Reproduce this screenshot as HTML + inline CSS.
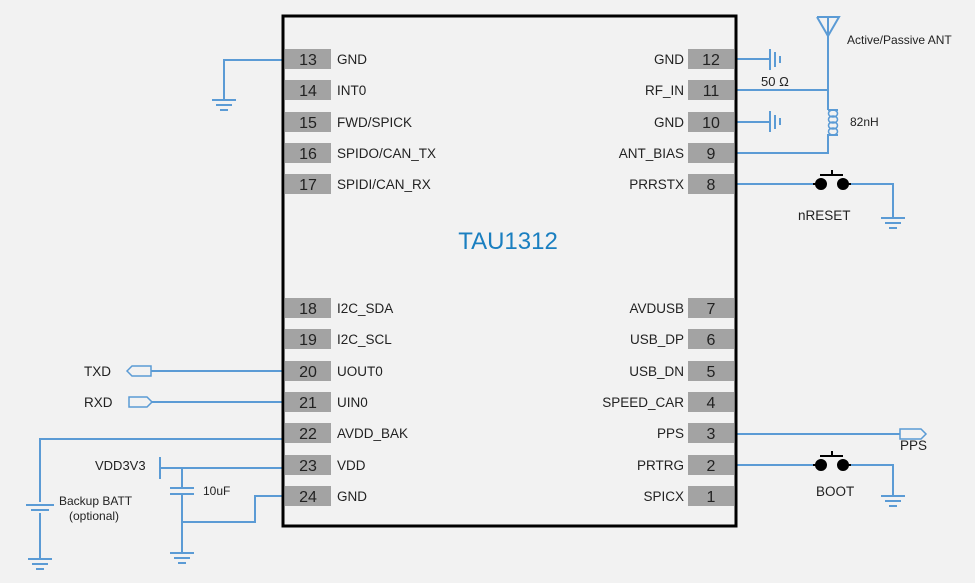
<!DOCTYPE html>
<html><head><meta charset="utf-8"><style>
html,body{margin:0;padding:0;background:#f2f2f2;}
svg{display:block;font-family:"Liberation Sans",Arial,sans-serif;}
</style></head><body>
<svg width="975" height="583" viewBox="0 0 975 583" xmlns="http://www.w3.org/2000/svg">
<rect width="975" height="583" fill="#f2f2f2"/>
<g stroke="#5b9bd5" stroke-width="2" fill="none">
<polyline points="284,60 224,60 224,100"/>
<line x1="212" y1="100" x2="236" y2="100"/><line x1="216" y1="105" x2="232" y2="105"/><line x1="220" y1="110" x2="228" y2="110"/>
<line x1="737" y1="59" x2="770" y2="59"/><line x1="770" y1="49" x2="770" y2="70"/><line x1="775" y1="52" x2="775" y2="67"/><line x1="780" y1="56" x2="780" y2="63"/>
<line x1="737" y1="122" x2="770" y2="122"/><line x1="770" y1="111" x2="770" y2="132"/><line x1="775" y1="115" x2="775" y2="129"/><line x1="780" y1="118" x2="780" y2="125"/>
<line x1="737" y1="90" x2="828" y2="90"/>
<line x1="828" y1="27" x2="828" y2="110"/>
<polyline points="817,17 839,17 828,36 817,17"/>
<line x1="828" y1="17" x2="828" y2="36"/>
<polyline points="828,110 838,110"/>
<g stroke-width="1.5">
<ellipse cx="833" cy="113.5" rx="4.5" ry="3.5"/>
<ellipse cx="833" cy="119.5" rx="4.5" ry="3.5"/>
<ellipse cx="833" cy="125.5" rx="4.5" ry="3.5"/>
<ellipse cx="833" cy="131.5" rx="4.5" ry="3.5"/>
</g>
<polyline points="838,135 828,135 828,153 737,153"/>
<line x1="737" y1="184" x2="813" y2="184"/>
<polyline points="848,184 893,184 893,218"/>
<line x1="881" y1="218" x2="905" y2="218"/><line x1="885" y1="223" x2="901" y2="223"/><line x1="889" y1="228" x2="897" y2="228"/>
<line x1="737" y1="434" x2="900" y2="434"/>
<polygon points="900,429 921,429 926,434 921,439 900,439" stroke-width="1.5"/>
<line x1="737" y1="465" x2="813" y2="465"/>
<polyline points="848,465 893,465 893,496"/>
<line x1="881" y1="496" x2="905" y2="496"/><line x1="885" y1="501" x2="901" y2="501"/><line x1="889" y1="506" x2="897" y2="506"/>
<line x1="151" y1="371" x2="284" y2="371"/>
<polygon points="151,366 132,366 127,371 132,376 151,376" stroke-width="1.5"/>
<line x1="152" y1="402" x2="284" y2="402"/>
<polygon points="129,397 147,397 152,402 147,407 129,407" stroke-width="1.5"/>
<polyline points="284,439 40,439 40,502"/>
<line x1="26" y1="505" x2="54" y2="505"/><line x1="31" y1="510" x2="49" y2="510"/>
<line x1="40" y1="513" x2="40" y2="559"/>
<line x1="28" y1="559" x2="52" y2="559"/><line x1="32" y1="564" x2="48" y2="564"/><line x1="36" y1="569" x2="44" y2="569"/>
<line x1="160" y1="457" x2="160" y2="479"/>
<line x1="160" y1="468" x2="284" y2="468"/>
<line x1="182" y1="468" x2="182" y2="488"/>
<line x1="170" y1="488" x2="194" y2="488"/><line x1="170" y1="494" x2="194" y2="494"/>
<line x1="182" y1="494" x2="182" y2="553"/>
<line x1="170" y1="553" x2="194" y2="553"/><line x1="174" y1="558" x2="190" y2="558"/><line x1="178" y1="563" x2="186" y2="563"/>
<polyline points="284,496 255,496 255,522 182,522"/>
</g>
<g fill="#000" stroke="#000" stroke-width="2">
<circle cx="821" cy="184" r="5"/><circle cx="843" cy="184" r="5"/>
<line x1="813" y1="184" x2="816" y2="184"/><line x1="848" y1="184" x2="851" y2="184"/>
<line x1="820" y1="175" x2="843" y2="175"/><line x1="832" y1="170" x2="832" y2="175"/>
<circle cx="821" cy="465" r="5"/><circle cx="843" cy="465" r="5"/>
<line x1="813" y1="465" x2="816" y2="465"/><line x1="848" y1="465" x2="851" y2="465"/>
<line x1="820" y1="456" x2="843" y2="456"/><line x1="832" y1="451" x2="832" y2="456"/>
</g>
<rect x="283" y="16" width="453" height="510" fill="none" stroke="#000" stroke-width="3"/>
<g fill="#a3a3a3">
<rect x="285" y="49" width="46" height="20"/><rect x="285" y="80" width="46" height="20"/><rect x="285" y="112" width="46" height="20"/><rect x="285" y="143" width="46" height="20"/><rect x="285" y="174" width="46" height="20"/>
<rect x="285" y="298" width="46" height="20"/><rect x="285" y="329" width="46" height="20"/><rect x="285" y="361" width="46" height="20"/><rect x="285" y="392" width="46" height="20"/><rect x="285" y="423" width="46" height="20"/><rect x="285" y="455" width="46" height="20"/><rect x="285" y="486" width="46" height="20"/>
<rect x="688" y="49" width="46" height="20"/><rect x="688" y="80" width="46" height="20"/><rect x="688" y="112" width="46" height="20"/><rect x="688" y="143" width="46" height="20"/><rect x="688" y="174" width="46" height="20"/>
<rect x="688" y="298" width="46" height="20"/><rect x="688" y="329" width="46" height="20"/><rect x="688" y="361" width="46" height="20"/><rect x="688" y="392" width="46" height="20"/><rect x="688" y="423" width="46" height="20"/><rect x="688" y="455" width="46" height="20"/><rect x="688" y="486" width="46" height="20"/>
</g>
<g font-size="16" fill="#222" text-anchor="middle">
<text x="308" y="65">13</text><text x="308" y="96">14</text><text x="308" y="128">15</text><text x="308" y="159">16</text><text x="308" y="190">17</text>
<text x="308" y="314">18</text><text x="308" y="345">19</text><text x="308" y="377">20</text><text x="308" y="408">21</text><text x="308" y="439">22</text><text x="308" y="471">23</text><text x="308" y="502">24</text>
<text x="711" y="65">12</text><text x="711" y="96">11</text><text x="711" y="128">10</text><text x="711" y="159">9</text><text x="711" y="190">8</text>
<text x="711" y="314">7</text><text x="711" y="345">6</text><text x="711" y="377">5</text><text x="711" y="408">4</text><text x="711" y="439">3</text><text x="711" y="471">2</text><text x="711" y="502">1</text>
</g>
<g font-size="13.5" fill="#222">
<text x="337" y="64">GND</text><text x="337" y="95">INT0</text><text x="337" y="127">FWD/SPICK</text><text x="337" y="158">SPIDO/CAN_TX</text><text x="337" y="189">SPIDI/CAN_RX</text>
<text x="337" y="313">I2C_SDA</text><text x="337" y="344">I2C_SCL</text><text x="337" y="376">UOUT0</text><text x="337" y="407">UIN0</text><text x="337" y="438">AVDD_BAK</text><text x="337" y="470">VDD</text><text x="337" y="501">GND</text>
</g>
<g font-size="13.5" fill="#222" text-anchor="end">
<text x="684" y="64">GND</text><text x="684" y="95">RF_IN</text><text x="684" y="127">GND</text><text x="684" y="158">ANT_BIAS</text><text x="684" y="189">PRRSTX</text>
<text x="684" y="313">AVDUSB</text><text x="684" y="344">USB_DP</text><text x="684" y="376">USB_DN</text><text x="684" y="407">SPEED_CAR</text><text x="684" y="438">PPS</text><text x="684" y="470">PRTRG</text><text x="684" y="501">SPICX</text>
</g>
<text x="508" y="249" font-size="24" fill="#1a7fc0" text-anchor="middle">TAU1312</text>
<g fill="#222">
<text x="847" y="44" font-size="12">Active/Passive ANT</text>
<text x="761" y="86" font-size="13">50 Ω</text>
<text x="850" y="126" font-size="12">82nH</text>
<text x="798" y="220" font-size="13.5">nRESET</text>
<text x="900" y="450" font-size="13.5">PPS</text>
<text x="816" y="496" font-size="13.5">BOOT</text>
<text x="84" y="376" font-size="13.5">TXD</text>
<text x="84" y="407" font-size="13.5">RXD</text>
<text x="95" y="470" font-size="13">VDD3V3</text>
<text x="203" y="495" font-size="12">10uF</text>
<text x="59" y="505" font-size="12">Backup BATT</text>
<text x="69" y="520" font-size="12">(optional)</text>
</g>
</svg>
</body></html>
